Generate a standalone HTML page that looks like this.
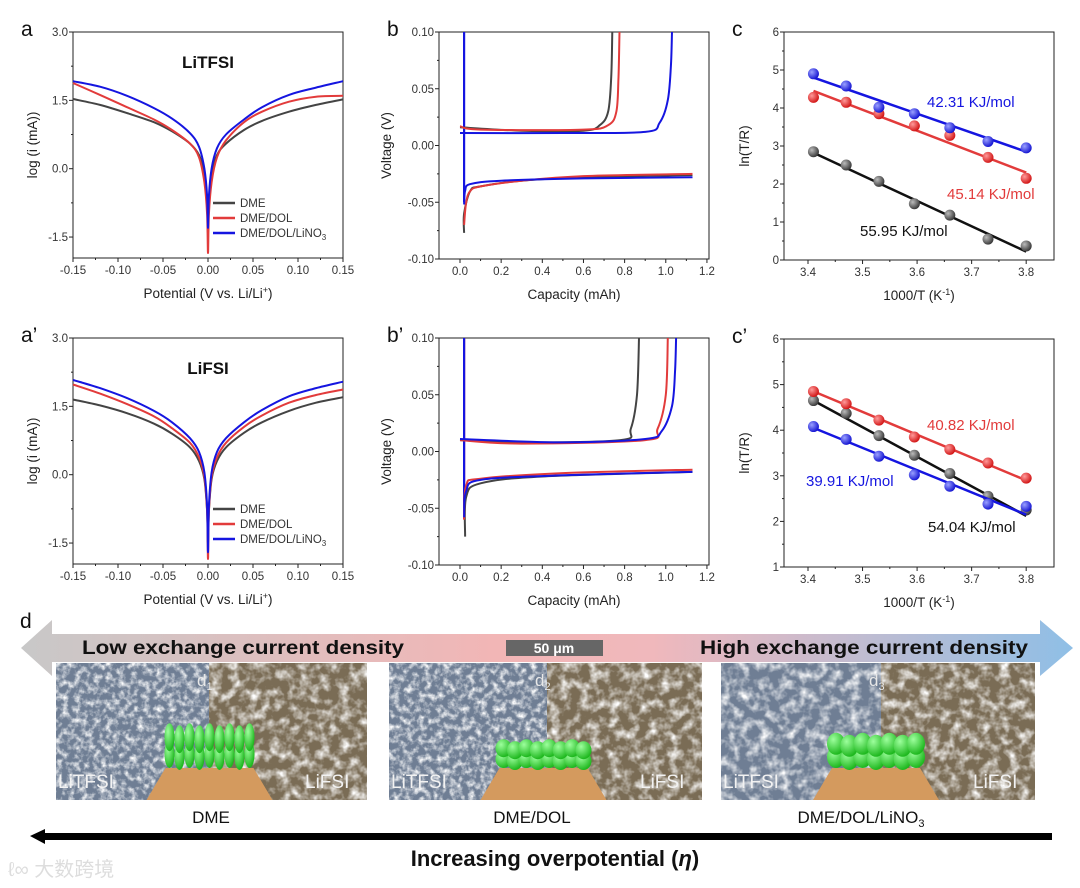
<!DOCTYPE html>
<html><head><meta charset="utf-8"><style>
html,body{margin:0;padding:0;background:#fff;}
svg{display:block;font-family:"Liberation Sans",Arial,sans-serif;}
</style></head><body>
<svg id="fig" width="1080" height="888" viewBox="0 0 1080 888" xmlns="http://www.w3.org/2000/svg">
<defs>
<radialGradient id="gk" cx="0.35" cy="0.35" r="0.7"><stop offset="0" stop-color="#bbb"/><stop offset="1" stop-color="#333"/></radialGradient>
<radialGradient id="gr" cx="0.35" cy="0.35" r="0.7"><stop offset="0" stop-color="#ff9a9a"/><stop offset="1" stop-color="#d01010"/></radialGradient>
<radialGradient id="gb" cx="0.35" cy="0.35" r="0.7"><stop offset="0" stop-color="#9aa0ff"/><stop offset="1" stop-color="#1010d0"/></radialGradient>
<radialGradient id="gg" cx="0.35" cy="0.3" r="0.7"><stop offset="0" stop-color="#9dff9d"/><stop offset="1" stop-color="#1fb81f"/></radialGradient>
<linearGradient id="band" x1="0" x2="1" y1="0" y2="0"><stop offset="0" stop-color="#c8c8c8"/><stop offset="0.45" stop-color="#f2b6b6"/><stop offset="0.6" stop-color="#f0b8bc"/><stop offset="1" stop-color="#8fbfe6"/></linearGradient>
<filter id="tex" x="0" y="0" width="100%" height="100%"><feTurbulence type="fractalNoise" baseFrequency="0.16" numOctaves="3" seed="3"/><feColorMatrix type="matrix" values="0 0 0 0 1  0 0 0 0 1  0 0 0 0 1  0 0 0 -2.2 1.3"/><feComposite in2="SourceGraphic" operator="in"/></filter>
<filter id="tex2" x="0" y="0" width="100%" height="100%"><feTurbulence type="fractalNoise" baseFrequency="0.1" numOctaves="3" seed="8"/><feColorMatrix type="matrix" values="0 0 0 0 1  0 0 0 0 1  0 0 0 0 1  0 0 0 -2.2 1.3"/><feComposite in2="SourceGraphic" operator="in"/></filter>
</defs>
<g id="charts"></g>
<g id="partd"></g>
</svg>
<script>
// ---------- data ----------
const tafelPot = [-0.15,-0.12,-0.09,-0.06,-0.04,-0.02,-0.01,-0.004,-0.001,0,0.001,0.004,0.01,0.02,0.04,0.06,0.09,0.12,0.15];
const aDME  = [1.53,1.40,1.22,1.02,0.82,0.55,0.30,-0.1,-0.8,-1.4,-0.8,-0.1,0.30,0.55,0.85,1.05,1.25,1.40,1.52];
const aDOL  = [1.88,1.62,1.35,1.08,0.85,0.55,0.25,-0.3,-1.0,-1.85,-1.0,-0.3,0.25,0.62,1.02,1.25,1.47,1.58,1.60];
const aLiNO = [1.92,1.80,1.60,1.33,1.10,0.78,0.48,0.0,-0.6,-1.3,-0.6,0.0,0.45,0.75,1.08,1.35,1.62,1.78,1.92];
const apDME  = [1.65,1.52,1.35,1.12,0.90,0.60,0.30,-0.1,-0.8,-1.5,-0.8,-0.1,0.30,0.60,0.92,1.15,1.40,1.58,1.70];
const apDOL  = [1.98,1.78,1.55,1.28,1.02,0.70,0.38,-0.05,-0.8,-1.85,-0.8,-0.05,0.38,0.70,1.05,1.30,1.58,1.75,1.87];
const apLiNO = [2.08,1.90,1.68,1.40,1.15,0.80,0.50,0.05,-0.7,-1.7,-0.7,0.05,0.50,0.80,1.15,1.42,1.72,1.90,2.04];

const bChargeCap_k = [0.0,0.3,0.6,0.68,0.72,0.735,0.74];
const bChargeV_k   = [0.016,0.013,0.013,0.018,0.03,0.06,0.1];
const bChargeCap_r = [0.0,0.1,0.6,0.72,0.76,0.77,0.775];
const bChargeV_r   = [0.017,0.014,0.014,0.018,0.03,0.06,0.1];
const bChargeCap_b = [0.0,0.5,0.9,0.97,1.01,1.025,1.03];
const bChargeV_b   = [0.011,0.011,0.012,0.02,0.04,0.07,0.1];
const bDisCap_k = [0.02,0.02,0.05,0.1,0.3,0.6,1.13];
const bDisV_k   = [-0.077,-0.06,-0.04,-0.036,-0.031,-0.028,-0.026];
const bDisCap_r = [0.02,0.03,0.05,0.1,0.3,0.6,1.13];
const bDisV_r   = [-0.07,-0.05,-0.04,-0.036,-0.031,-0.027,-0.025];
const bDisCap_b = [0.02,0.025,0.05,0.2,0.6,1.13];
const bDisV_b   = [-0.052,-0.04,-0.034,-0.031,-0.029,-0.028];

const bpChargeCap_k = [0.0,0.3,0.78,0.83,0.86,0.87];
const bpChargeV_k   = [0.010,0.008,0.010,0.02,0.05,0.1];
const bpChargeCap_r = [0.0,0.3,0.9,0.96,1.0,1.01];
const bpChargeV_r   = [0.010,0.007,0.010,0.02,0.05,0.1];
const bpChargeCap_b = [0.0,0.5,0.9,0.98,1.03,1.045,1.05];
const bpChargeV_b   = [0.011,0.008,0.011,0.018,0.04,0.07,0.1];
const bpDisCap_k = [0.025,0.03,0.1,0.4,1.13];
const bpDisV_k   = [-0.075,-0.04,-0.028,-0.022,-0.018];
const bpDisCap_r = [0.02,0.03,0.1,0.5,1.13];
const bpDisV_r   = [-0.06,-0.03,-0.024,-0.019,-0.016];
const bpDisCap_b = [0.02,0.03,0.1,0.5,1.13];
const bpDisV_b   = [-0.058,-0.035,-0.025,-0.021,-0.018];

const invT = [3.41,3.47,3.53,3.595,3.66,3.73,3.80];
const cBlue  = [4.9,4.58,4.02,3.85,3.48,3.12,2.95];
const cRed   = [4.28,4.15,3.85,3.53,3.28,2.7,2.15];
const cBlack = [2.85,2.5,2.07,1.48,1.18,0.55,0.37];
const cBlueFit=[4.8,2.85], cRedFit=[4.45,2.3], cBlackFit=[2.82,0.22];
const cpRed   = [4.85,4.58,4.22,3.85,3.58,3.28,2.95];
const cpBlack = [4.65,4.37,3.88,3.45,3.05,2.55,2.25];
const cpBlue  = [4.08,3.8,3.43,3.02,2.77,2.38,2.33];
const cpRedFit=[4.85,2.9], cpBlackFit=[4.65,2.12], cpBlueFit=[4.05,2.15];

const tafelTicks = [-0.15,-0.10,-0.05,0,0.05,0.10,0.15];
const tafelTickLabels = ["-0.15","-0.10","-0.05","0.00","0.05","0.10","0.15"];
const logTicks = [-1.5,0,1.5,3.0];
const logTickLabels = ["-1.5","0.0","1.5","3.0"];
const capTicks = [0,0.2,0.4,0.6,0.8,1.0,1.2];
const capTickLabels = ["0.0","0.2","0.4","0.6","0.8","1.0","1.2"];
const vTicks = [-0.1,-0.05,0,0.05,0.1];
const vTickLabels = ["-0.10","-0.05","0.00","0.05","0.10"];
const invTicks = [3.4,3.5,3.6,3.7,3.8];
const invTickLabels = ["3.4","3.5","3.6","3.7","3.8"];

// ---------- helpers ----------
const NS="http://www.w3.org/2000/svg";
const root=document.getElementById('charts');
function el(tag,attrs,parent,text){const e=document.createElementNS(NS,tag);for(const k in attrs)e.setAttribute(k,attrs[k]);if(text!==undefined)e.textContent=text;(parent||root).appendChild(e);return e;}
function scale(d0,d1,r0,r1){return v=>r0+(v-d0)*(r1-r0)/(d1-d0);}
const K="#444", R="#e23b3b", B="#1515e0";

function axes(g,box,xd,yd,xt,xl,yt,yl,xtitle,ytitle,ytx,letter){
  const [x0,y0,x1,y1]=box;const sx=scale(xd[0],xd[1],x0,x1), sy=scale(yd[0],yd[1],y1,y0);
  const fr=el('rect',{x:x0,y:y0,width:x1-x0,height:y1-y0,fill:'none',stroke:'#222','stroke-width':1},g);
  
  xt.forEach((v,i)=>{const x=sx(v);el('line',{x1:x,x2:x,y1:y1,y2:y1+4,stroke:'#222'},g);
    const t=el('text',{x:x,y:y1+16,'font-size':11.5,fill:'#333','text-anchor':'middle'},g,xl[i]);
    
    if(i<xt.length-1){const xm=sx((v+xt[i+1])/2);el('line',{x1:xm,x2:xm,y1:y1,y2:y1+2,stroke:'#222'},g);}});
  yt.forEach((v,i)=>{const y=sy(v);el('line',{x1:x0,x2:x0-4,y1:y,y2:y,stroke:'#222'},g);
    const t=el('text',{x:x0-5,y:y+4,'font-size':11.5,fill:'#333','text-anchor':'end'},g,yl[i]);
    
    if(i<yt.length-1){const ym=sy((v+yt[i+1])/2);el('line',{x1:x0,x2:x0-2,y1:ym,y2:ym,stroke:'#222'},g);}});
  const xtl=el('text',{x:(x0+x1)/2,y:y1+40,'font-size':13.5,fill:'#222','text-anchor':'middle'},g);
  
  xtitle.forEach(p=>{el('tspan',p[1]||{},xtl,p[0]);});
  const cy=(y0+y1)/2;
  const ytl=el('text',{x:ytx,y:cy,'font-size':13.5,fill:'#222','text-anchor':'middle',transform:`rotate(-90 ${ytx} ${cy})`},g,ytitle);
  
  const lt=el('text',{x:x0-52,y:y0+4,'font-size':21,fill:'#111'},g,letter);
  
  return {sx,sy};
}
function line(g,sx,sy,xs,ys,col,w,name,smooth){
  const P=xs.map((x,i)=>[sx(x),sy(ys[i])]);
  let d='M'+P[0][0].toFixed(1)+' '+P[0][1].toFixed(1);
  for(let i=1;i<P.length;i++){
    if(smooth){const p0=P[Math.max(0,i-2)],p1=P[i-1],p2=P[i],p3=P[Math.min(P.length-1,i+1)];
      const c1=[p1[0]+(p2[0]-p0[0])/6,p1[1]+(p2[1]-p0[1])/6],c2=[p2[0]-(p3[0]-p1[0])/6,p2[1]-(p3[1]-p1[1])/6];
      d+=` C${c1[0].toFixed(1)} ${c1[1].toFixed(1)} ${c2[0].toFixed(1)} ${c2[1].toFixed(1)} ${p2[0].toFixed(1)} ${p2[1].toFixed(1)}`;}
    else d+=' L'+P[i][0].toFixed(1)+' '+P[i][1].toFixed(1);}
  const p=el('path',{d:d,fill:'none',stroke:col,'stroke-width':w||2,'stroke-linejoin':'round'},g);
  return p;
}
function legend(g,x,y){
  [[K,'DME'],[R,'DME/DOL'],[B,'DME/DOL/LiNO']].forEach((e,i)=>{
    const yy=y+i*15;el('line',{x1:x,x2:x+22,y1:yy,y2:yy,stroke:e[0],'stroke-width':2.5},g);
    const t=el('text',{x:x+27,y:yy+4,'font-size':11.5,fill:'#333'},g,e[1]);
    
    if(i==2)el('tspan',{'font-size':8,dy:3},t,'3');});
}
const potTitle=[["Potential (V vs. Li/Li"],["+",{'font-size':9,dy:-5}],[")",{dy:5}]];
const invTitle=[["1000/T (K"],["-1",{'font-size':9,dy:-5}],[")",{dy:5}]];

function tafel(off,letter,salt,s1,s2,s3){
  const g=el('g',{});
  const {sx,sy}=axes(g,[73,32+off,343,258+off],[-0.15,0.15],[-1.96,3.0],tafelTicks,tafelTickLabels,logTicks,logTickLabels,potTitle,'log (i (mA))',37,letter);
  line(g,sx,sy,tafelPot,s1,K,2,'series-dme',true);line(g,sx,sy,tafelPot,s2,R,2,'series-dme-dol',true);line(g,sx,sy,tafelPot,s3,B,2,'series-dme-dol-lino3',true);
  const t=el('text',{x:208,y:68+off,'font-size':17,'font-weight':'bold',fill:'#111','text-anchor':'middle'},g,salt);
  
  legend(g,213,203+off);
}
tafel(0,'a','LiTFSI',aDME,aDOL,aLiNO);
tafel(306,'a\u2019','LiFSI',apDME,apDOL,apLiNO);

function gcd(off,letter,nm,sets,verticals){
  const g=el('g',{});
  const {sx,sy}=axes(g,[439,32+off,709,259+off],[-0.102,1.21],[-0.1,0.1],capTicks,capTickLabels,vTicks,vTickLabels,[["Capacity (mAh)"]],'Voltage (V)',391,letter);
  verticals.forEach(v=>line(g,sx,sy,[0.02,0.02],[v[0],0.1],v[1],2.2,'vertical-step'));
  sets.forEach(s=>line(g,sx,sy,s[0],s[1],s[2],2,s[3],true));
}
gcd(0,'b','gcd-chart-litfsi',[[bDisCap_k,bDisV_k,K,'discharge-dme'],[bDisCap_r,bDisV_r,R,'discharge-dme-dol'],[bDisCap_b,bDisV_b,B,'discharge-lino3'],
  [bChargeCap_k,bChargeV_k,K,'charge-dme'],[bChargeCap_r,bChargeV_r,R,'charge-dme-dol'],[bChargeCap_b,bChargeV_b,B,'charge-lino3']],[[-0.05,B]]);
gcd(306,'b\u2019','gcd-chart-lifsi',[[bpDisCap_k,bpDisV_k,K,'discharge-dme'],[bpDisCap_r,bpDisV_r,R,'discharge-dme-dol'],[bpDisCap_b,bpDisV_b,B,'discharge-lino3'],
  [bpChargeCap_k,bpChargeV_k,K,'charge-dme'],[bpChargeCap_r,bpChargeV_r,R,'charge-dme-dol'],[bpChargeCap_b,bpChargeV_b,B,'charge-lino3']],[[-0.06,R],[-0.05,B]]);

function arr(off,letter,nm,yd,yt,series,labels){
  const g=el('g',{});
  const yl=yt.map(String);
  const top=off?339:32, bot=off?567:260;
  const {sx,sy}=axes(g,[784,top,1054,bot],[3.356,3.851],yd,invTicks,invTickLabels,yt,yl,invTitle,'ln(T/R)',749,letter);
  series.forEach(s=>{
    line(g,sx,sy,[invT[0],invT[invT.length-1]],s[1],s[2],2.5,s[4]+'-fit');
    s[0].forEach((v,i)=>{const c=el('circle',{cx:sx(invT[i]),cy:sy(v),r:5.5,fill:s[3]},g);
      });
  });
  labels.forEach(l=>{const t=el('text',{x:l[0],y:l[1],'font-size':15,fill:l[3]},g,l[2]);
    });
}
arr(0,'c','arrhenius-chart-litfsi',[0,6],[0,1,2,3,4,5,6],
  [[cBlack,cBlackFit,'#111','url(#gk)','dme'],[cRed,cRedFit,R,'url(#gr)','dme-dol'],[cBlue,cBlueFit,B,'url(#gb)','lino3']],
  [[927,107,'42.31 KJ/mol',B],[947,199,'45.14 KJ/mol',R],[860,236,'55.95 KJ/mol','#111']]);
arr(306,'c\u2019','arrhenius-chart-lifsi',[1,6],[1,2,3,4,5,6],
  [[cpBlack,cpBlackFit,'#111','url(#gk)','dme'],[cpRed,cpRedFit,R,'url(#gr)','dme-dol'],[cpBlue,cpBlueFit,B,'url(#gb)','lino3']],
  [[927,430,'40.82 KJ/mol',R],[806,486,'39.91 KJ/mol',B],[928,532,'54.04 KJ/mol','#111']]);

// ---------- panel d ----------
const pd=document.getElementById('partd');
el('text',{x:20,y:628,'font-size':21,fill:'#111'},pd,'d');
el('path',{d:'M21 648 L52 620 L52 634 L1040 634 L1040 620 L1073 648 L1040 676 L1040 662 L52 662 L52 676 Z',fill:'url(#band)'},pd);
const lo=el('text',{x:82,y:654,'font-size':19,'font-weight':'bold',fill:'#111',textLength:322,lengthAdjust:'spacingAndGlyphs'},pd,'Low exchange current density');

const hi=el('text',{x:700,y:654,'font-size':19,'font-weight':'bold',fill:'#111',textLength:328,lengthAdjust:'spacingAndGlyphs'},pd,'High exchange current density');

el('rect',{x:506,y:640,width:97,height:16,fill:'#666'},pd);
el('text',{x:554,y:653,'font-size':14,'font-weight':'bold',fill:'#fff','text-anchor':'middle'},pd,'50 μm');
const panels=[[56,209,367,'d','1','DME',211],[389,547,702,'d','2','DME/DOL',532],[721,881,1035,'d','3','DME/DOL/LiNO',861]];
const blobsPer=[[0,1,2,3,4,5,6,7,8],[0,1,2,3,4,5,6,7],[0,1,2,3,4,5,6]];
panels.forEach((p,k)=>{
  const g=el('g',{},pd);
  el('rect',{x:p[0],y:663,width:p[1]-p[0],height:137,fill:'#6f7e94'},g);
  el('rect',{x:p[0],y:663,width:p[1]-p[0],height:137,fill:'#c4cede',filter:k==2?'url(#tex2)':'url(#tex)'},g);
  el('rect',{x:p[1],y:663,width:p[2]-p[1],height:137,fill:'#7a6c55'},g);
  el('rect',{x:p[1],y:663,width:p[2]-p[1],height:137,fill:'#c9bca2',filter:'url(#tex2)'},g);
  const t=el('text',{x:p[1]-12,y:686,'font-size':17,fill:'#e8e8e8'},g,p[3]);el('tspan',{'font-size':11,dy:4},t,p[4]);
  el('text',{x:p[0]+2,y:788,'font-size':19,fill:'#f2f2f2'},g,'LiTFSI');
  el('text',{x:p[2]-62,y:788,'font-size':19,fill:'#f2f2f2'},g,'LiFSI');
  const cx=(p[0]+p[2])/2-2;
  el('path',{d:`M${cx-63} 800 L${cx-44} 768 L${cx+44} 768 L${cx+63} 800 Z`,fill:'#d49a5e'},g);
  const n=blobsPer[k].length;
  for(let r=0;r<2;r++)for(let i=0;i<n;i++){const bx=cx-40+80*i/(n-1);
    const ry=k==0?14:(k==1?9:11), rx=k==0?5:(k==1?8:9);
    el('ellipse',{cx:bx,cy:768-ry-(r?ry*1.2:0)+(i%2)*2,rx:rx,ry:ry,fill:'url(#gg)'},g);}
  const lab=el('text',{x:p[6],y:823,'font-size':17,fill:'#111','text-anchor':'middle'},pd,p[5]);
  
  if(k==2)el('tspan',{'font-size':11,dy:4},lab,'3');
});
el('path',{d:'M30 836 L45 829 L45 833 L1052 833 L1052 840 L45 840 L45 844 Z',fill:'#000'},pd);
const inc=el('text',{x:555,y:866,'font-size':22,'font-weight':'bold',fill:'#111','text-anchor':'middle'},pd,'Increasing overpotential (');

el('tspan',{'font-style':'italic'},inc,'η');el('tspan',{},inc,')');
el('text',{x:8,y:876,'font-size':20,fill:'#ddd','font-family':'"Liberation Sans","Noto Sans CJK SC",sans-serif'},pd,'ℓ∞ 大数跨境');
</script>
</body></html>
